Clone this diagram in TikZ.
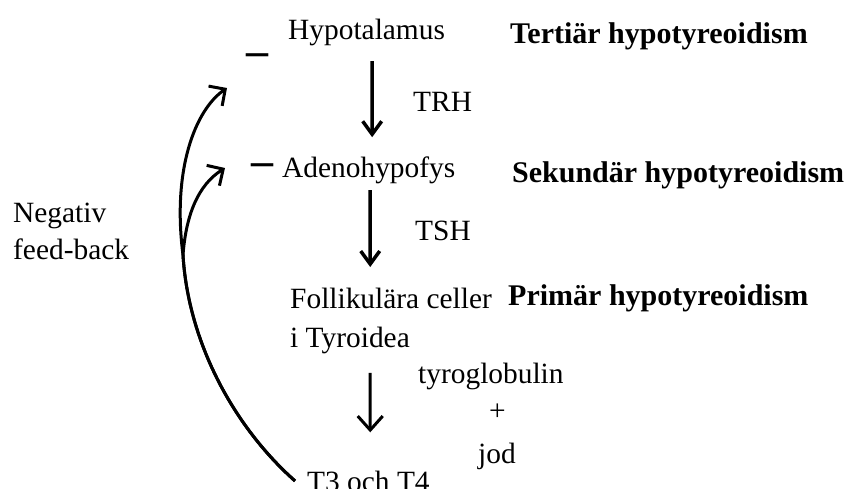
\documentclass[tikz,border=0pt]{standalone}
\usepackage{fontspec}
\setmainfont{Liberation Serif}
\usetikzlibrary{arrows.meta}

\begin{document}
\begin{tikzpicture}[x=1pt,y=-1pt,
  txt/.style={anchor=base west,inner sep=0pt,font=\fontsize{29.4}{39}\selectfont},
  fet/.style={anchor=base west,inner sep=0pt,font=\fontsize{30}{36}\selectfont\bfseries},
  minus/.style={anchor=base,inner sep=0pt,font=\fontsize{44}{44}\selectfont\bfseries},
  vpil/.style={line width=3.5pt,-{Straight Barb[length=13pt,width=19pt]}},
  fbpil/.style={line width=3pt,-{Straight Barb[length=12pt,width=24pt]}}]
  \useasboundingbox (0,0) rectangle (853,488);
  % levels
  \node[txt] (hyp) at (288,39) {Hypotalamus};
  \node[txt] (adeno) at (282,177) {Adenohypofys};
  \node[txt,align=left,anchor=north west] (foll) at (290,288) {Follikulära celler\\i Tyroidea};
  \node[txt] (t3) at (307,491) {T3 och T4};
  % hormones
  \node[txt] (trh) at (413,111) {TRH};
  \node[txt] (tsh) at (415,240) {TSH};
  \node[txt] (tyr) at (418,383) {tyroglobulin};
  \node[txt] (plus) at (489,420) {+};
  \node[txt] (jod) at (478,463) {jod};
  % hypotyreoidism
  \node[fet] (tert) at (510,43) {Tertiär hypotyreoidism};
  \node[fet] (sek) at (512,182) {Sekundär hypotyreoidism};
  \node[fet] (prim) at (508,305) {Primär hypotyreoidism};
  \node[txt] (neg) at (13,222) {Negativ};
  \node[txt] (feed) at (13,259) {feed-back};
  % minus signs
  \node[minus] (m1) at (257,65) {–};
  \node[minus] (m2) at (262,175) {–};
  % down arrows
  \draw[vpil] ([shift={(5.6pt,-15.6pt)}]hyp.south) -- ([shift={(3.4pt,18.9pt)}]adeno.north);
  \draw[vpil] ([shift={(1.4pt,-6.6pt)}]adeno.south) -- ([shift={(-20.8pt,21pt)}]foll.north);
  \draw[line width=3pt,-{Straight Barb[length=14pt,width=25pt]}]
    ([shift={(-20.8pt,-18.6pt)}]foll.south) -- ([shift={(1.8pt,38.1pt)}]t3.north);
  % feed-back
  \coordinate (gren) at (183,255);
  \coordinate (spets1) at (227,88);
  \coordinate (spets2) at (225,168);
  \draw[fbpil] ([xshift=-12pt]t3.west) .. controls (232,425) and (188,340) .. (gren)
    .. controls (172,170) and (195,110) .. (spets1);
  \draw[fbpil] ([xshift=-12pt]t3.west) .. controls (232,425) and (188,340) .. (gren)
    .. controls (186,215) and (198,185) .. (spets2);
\end{tikzpicture}
\end{document}
